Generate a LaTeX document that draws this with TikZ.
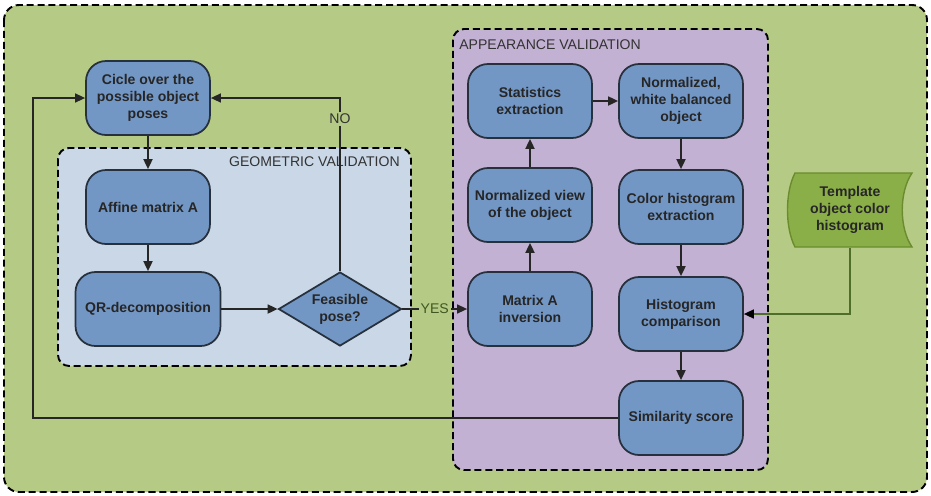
\documentclass[tikz,border=0pt]{standalone}
\usepackage{fontspec}
\setmainfont{Liberation Sans}
\usepackage{xcolor}
\definecolor{fondoVerde}{HTML}{B5CB85}
\definecolor{geoAzul}{HTML}{C9D7E6}
\definecolor{apLila}{HTML}{C3B1D3}
\definecolor{nodoAzul}{HTML}{7397C5}
\definecolor{bordeNodo}{HTML}{27303D}
\definecolor{plantVerde}{HTML}{8BAF48}
\definecolor{plantBorde}{HTML}{6A8C2E}
\definecolor{lineaVerde}{HTML}{4F6E2A}
\definecolor{textoGris}{HTML}{333333}
\usepackage{tikz}
\usetikzlibrary{arrows.meta,positioning,shapes.geometric,calc}

\begin{document}
\begin{tikzpicture}[x=0.02cm,y=-0.02cm,
 step box/.style={draw=bordeNodo,line width=1pt,rounded corners=0.4cm,fill=nodoAzul,
 minimum width=2.48cm,minimum height=1.48cm,align=center,inner sep=2pt,
 font=\fontsize{8}{9.6}\selectfont\bfseries,text=black!85},
 decision/.style={diamond,draw=bordeNodo,line width=1pt,fill=nodoAzul,aspect=1.66,
 minimum width=2.46cm,minimum height=1.48cm,inner sep=0pt,align=center,
 font=\fontsize{8}{9.6}\selectfont\bfseries,text=black!85},
 group/.style={draw=black,line width=1.1pt,dash pattern=on 4pt off 2.2pt,rounded corners=0.22cm},
 grouplabel/.style={font=\fontsize{8}{9.6}\selectfont,text=textoGris,inner sep=0pt},
 arr/.style={-{Triangle[length=2mm,width=1.8mm]},line width=1pt,draw=black!85},
 back/.style={-{Triangle[length=2mm,width=1.8mm]},line width=0.8pt,draw=black!85},
 answer/.style={font=\fontsize{8}{9.6}\selectfont,text=textoGris,fill=fondoVerde,inner sep=1pt}]
 \useasboundingbox (0,0) rectangle (931,495);
 % frames
 \draw[group,fill=fondoVerde,rounded corners=0.3cm] (4,5) rectangle (927,492);
 \draw[group,fill=geoAzul] (58,148) rectangle (411,366);
 \draw[group,fill=apLila] (453,29) rectangle (768,470);
 \node[grouplabel,anchor=east] (geolab) at (400,162) {GEOMETRIC VALIDATION};
 \node[grouplabel,anchor=west] (aplab) at (459,45) {APPEARANCE VALIDATION};
 % geometric part
 \node[step box] (cicle) at (148,98) {Cicle over the\\possible object\\poses};
 \node[step box] (affine) at (148,207) {Affine matrix A};
 \node[step box,minimum width=2.9cm] (qr) at (148,309) {QR-decomposition};
 \node[decision] (feasible) at (340,309) {Feasible\\pose?};
 % appearance part
 \node[step box] (inversion) at (530,309) {Matrix A\\inversion};
 \node[step box] (normview) at (530,205) {Normalized view\\of the object};
 \node[step box] (stats) at (530,101) {Statistics\\extraction};
 \node[step box] (balanced) at (681,101) {Normalized,\\white balanced\\object};
 \node[step box] (colorhist) at (681,207) {Color histogram\\extraction};
 \node[step box] (compare) at (681,314) {Histogram\\comparison};
 \node[step box] (score) at (681,418) {Similarity score};
 % template
 \filldraw[draw=plantBorde,fill=plantVerde,line width=0.8pt]
 (795,173) -- (912,173) .. controls (899,192) and (899,228) .. (912,247)
 -- (795,247) .. controls (785,228) and (785,192) .. (795,173) -- cycle
 (850,210) node[align=center,minimum width=2.3cm,minimum height=1.48cm,inner sep=0pt,
 font=\fontsize{8}{9.6}\selectfont\bfseries,text=black!85] (template)
 {Template\\object color\\histogram};
 \coordinate (loopx) at (33,0);
 % connectors
 \draw[arr] (cicle)--(affine);
 \draw[arr] (affine)--(qr);
 \draw[arr] (qr)--(feasible);
 \draw[back] (feasible.north) |- node[answer,pos=.44]{NO} (cicle.east);
 \draw[back] (feasible.east) -- node[answer,text=lineaVerde!80!black]{YES} (inversion.west);
 \draw[arr] (inversion)--(normview);
 \draw[arr] (normview)--(stats);
 \draw[arr] (stats)--(balanced);
 \draw[arr] (balanced)--(colorhist);
 \draw[arr] (colorhist)--(compare);
 \draw[arr] (compare)--(score);
 \draw[-{Triangle[length=2mm,width=1.8mm,color=black]},line width=0.8pt,draw=lineaVerde]
 (template.south) |- (compare.east);
 \draw[back] (score.west) -- (loopx |- score.west) |- (cicle.west);
\end{tikzpicture}
\end{document}
